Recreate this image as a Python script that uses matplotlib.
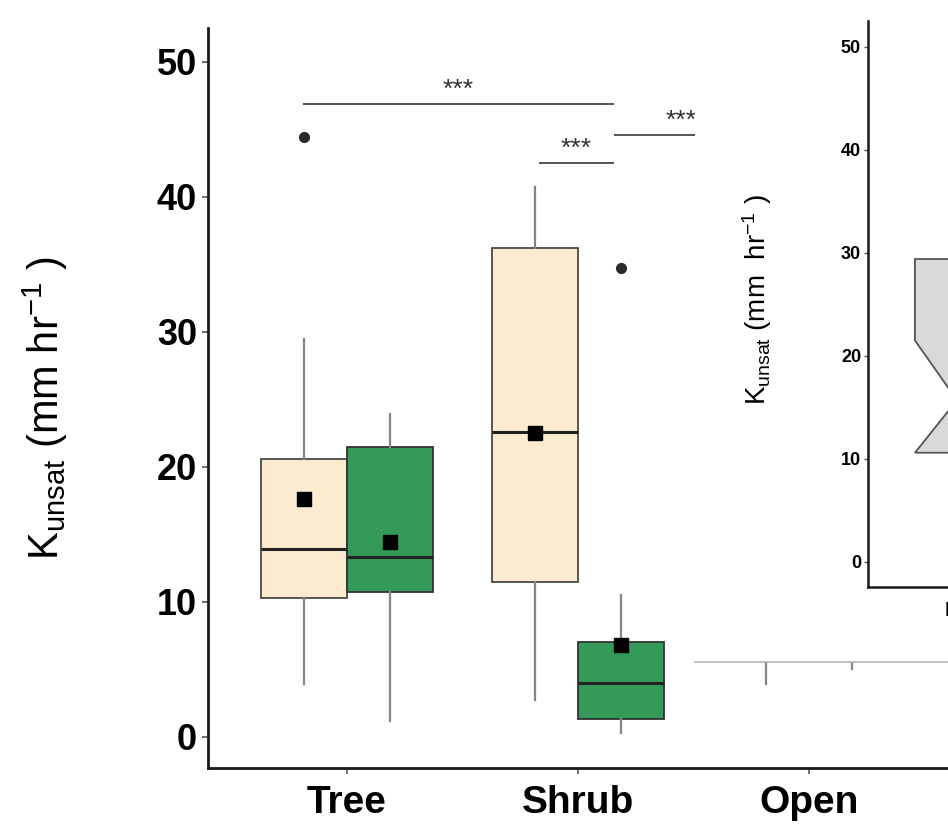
import matplotlib
matplotlib.use('Agg')
import matplotlib.pyplot as plt

plt.rcParams['font.family'] = ['Liberation Sans', 'DejaVu Sans']
plt.rcParams['mathtext.fontset'] = 'custom'
plt.rcParams['mathtext.rm'] = 'Liberation Sans'
plt.rcParams['mathtext.it'] = 'Liberation Sans:italic'
plt.rcParams['mathtext.bf'] = 'Liberation Sans:bold'

# ---------------- data ----------------
categories = ['Tree', 'Shrub', 'Open']

# group A (cream)
a_whislo = [3.9, 2.7, 3.9]
a_q1 = [10.3, 11.5, 9.0]
a_med = [13.9, 22.6, 15.0]
a_q3 = [20.6, 36.2, 24.0]
a_whishi = [29.5, 40.7, 40.0]
a_mean = [17.6, 22.5, 17.0]
a_fliers = [[44.4], [], []]

# group B (green)
b_whislo = [1.2, 0.3, 5.0]
b_q1 = [10.7, 1.3, 8.0]
b_med = [13.3, 4.0, 11.0]
b_q3 = [21.5, 7.0, 16.0]
b_whishi = [23.9, 10.5, 25.0]
b_mean = [14.4, 6.8, 13.0]
b_fliers = [[], [34.7], []]

# significance brackets (x start, x end, y)
sig_x1 = [0.81, 1.83, 2.156]
sig_x2 = [2.156, 2.156, 2.74]
sig_y = [46.9, 42.5, 44.6]
sig_lab = ['***', '***', '***']

# inset (notched box)
inset_cat = ['Burned']
inset_q1 = [10.6]
inset_med = [15.7]
inset_q3 = [29.4]
inset_cilo = [10.6]
inset_cihi = [21.5]
inset_whislo = [3.0]
inset_whishi = [45.0]

yticks = [0, 10, 20, 30, 40, 50]

# ---------------- figure ----------------
W, H = 948, 824
fig = plt.figure(figsize=(W / 100, H / 100), dpi=100)
ax = fig.add_axes([208 / W, 56 / H, 740 / W, 740 / H])

dodge = 0.186
bw = 0.372


def stats_list(lo, q1, med, q3, hi, mean, fl):
    return [dict(whislo=lo[i], q1=q1[i], med=med[i], q3=q3[i], whishi=hi[i],
                 mean=mean[i], fliers=fl[i]) for i in range(len(q1))]


common = dict(widths=bw, patch_artist=True, showcaps=False, showmeans=True,
              whiskerprops=dict(color='#858585', linewidth=1.6),
              medianprops=dict(color='#222222', linewidth=2.2),
              meanprops=dict(marker='s', markerfacecolor='black',
                             markeredgecolor='black', markersize=10),
              flierprops=dict(marker='o', markerfacecolor='#2a2a2a',
                              markeredgecolor='#2a2a2a', markersize=7))

pos = [i + 1 for i in range(len(categories))]
ax.bxp(stats_list(a_whislo, a_q1, a_med, a_q3, a_whishi, a_mean, a_fliers),
       positions=[p - dodge for p in pos],
       boxprops=dict(facecolor='#FDEBD0', edgecolor='#4a4a4a', linewidth=1.3),
       **common)
ax.bxp(stats_list(b_whislo, b_q1, b_med, b_q3, b_whishi, b_mean, b_fliers),
       positions=[p + dodge for p in pos],
       boxprops=dict(facecolor='#35995A', edgecolor='#333333', linewidth=1.3),
       **common)

for x1, x2, y, lab in zip(sig_x1, sig_x2, sig_y, sig_lab):
    ax.plot([x1, x2], [y, y], color='#555555', lw=1.4, solid_capstyle='butt')
    ax.text((x1 + x2) / 2, y + 1.05, lab, ha='center', va='center',
            fontsize=19, color='#333333')

ax.set_xlim(0.4, 3.6)
ax.set_ylim(-2.3, 52.5)
ax.set_xticks(pos)
ax.set_xticklabels(categories, fontsize=28, fontweight='bold')
ax.set_yticks(yticks)
ax.set_yticklabels([str(t) for t in yticks], fontsize=26, fontweight='bold')
ax.tick_params(axis='both', length=4, width=1.2, color='#555555')
ax.tick_params(axis='x', pad=8)
ax.tick_params(axis='y', pad=4)
for s in ['top', 'right']:
    ax.spines[s].set_visible(False)
for s in ['left', 'bottom']:
    ax.spines[s].set_color('#1a1a1a')
    ax.spines[s].set_linewidth(2.0)

fig.text(45 / W, 1 - 408 / H, r'K$_{\mathrm{unsat}}$ (mm hr$^{\mathrm{-1}}$ )',
         rotation=90, ha='center', va='center', fontsize=30)

# ---------------- overlapping inset ----------------
cov = fig.add_axes([695 / W, 162 / H, 0.32, 0.85])
cov.set_facecolor('white')
cov.set_xticks([])
cov.set_yticks([])
for s in ['top', 'right', 'left']:
    cov.spines[s].set_visible(False)
cov.spines['bottom'].set_color('#b5b5b5')
cov.spines['bottom'].set_linewidth(1.2)

ins = fig.add_axes([868 / W, 237 / H, 262 / W, 566 / H])
ins.set_facecolor('none')
ins_stats = [dict(whislo=inset_whislo[0], q1=inset_q1[0], med=inset_med[0],
                  q3=inset_q3[0], whishi=inset_whishi[0], cilo=inset_cilo[0],
                  cihi=inset_cihi[0], fliers=[])]
ins.bxp(ins_stats, positions=[1], widths=0.77, patch_artist=True,
        shownotches=True, showcaps=False,
        boxprops=dict(facecolor='#d9d9d9', edgecolor='#555555', linewidth=1.3),
        whiskerprops=dict(color='#555555', linewidth=1.2),
        medianprops=dict(color='#222222', linewidth=1.5))
ins.set_xlim(0.4, 1.6)
ins.set_ylim(-2.43, 52.5)
ins.set_xticks([1])
ins.set_xticklabels([''])
ins.set_yticks(yticks)
ins.set_yticklabels([str(t) for t in yticks], fontsize=13, fontweight='bold')
ins.tick_params(axis='both', length=3, width=1.0, color='#555555', pad=2)
for s in ['top', 'right']:
    ins.spines[s].set_visible(False)
for s in ['left', 'bottom']:
    ins.spines[s].set_color('#1a1a1a')
    ins.spines[s].set_linewidth(1.8)

# x label of the inset, cut by the right edge as in the reference
fig.text(945 / W, 1 - 611 / H, inset_cat[0], ha='left', va='center',
         fontsize=15, fontweight='bold')
fig.text(757 / W, 1 - 300 / H, r'K$_{\mathrm{unsat}}$ (mm  hr$^{\mathrm{-1}}$ )',
         rotation=90, ha='center', va='center', fontsize=20)

fig.savefig('out.png', dpi=100)
